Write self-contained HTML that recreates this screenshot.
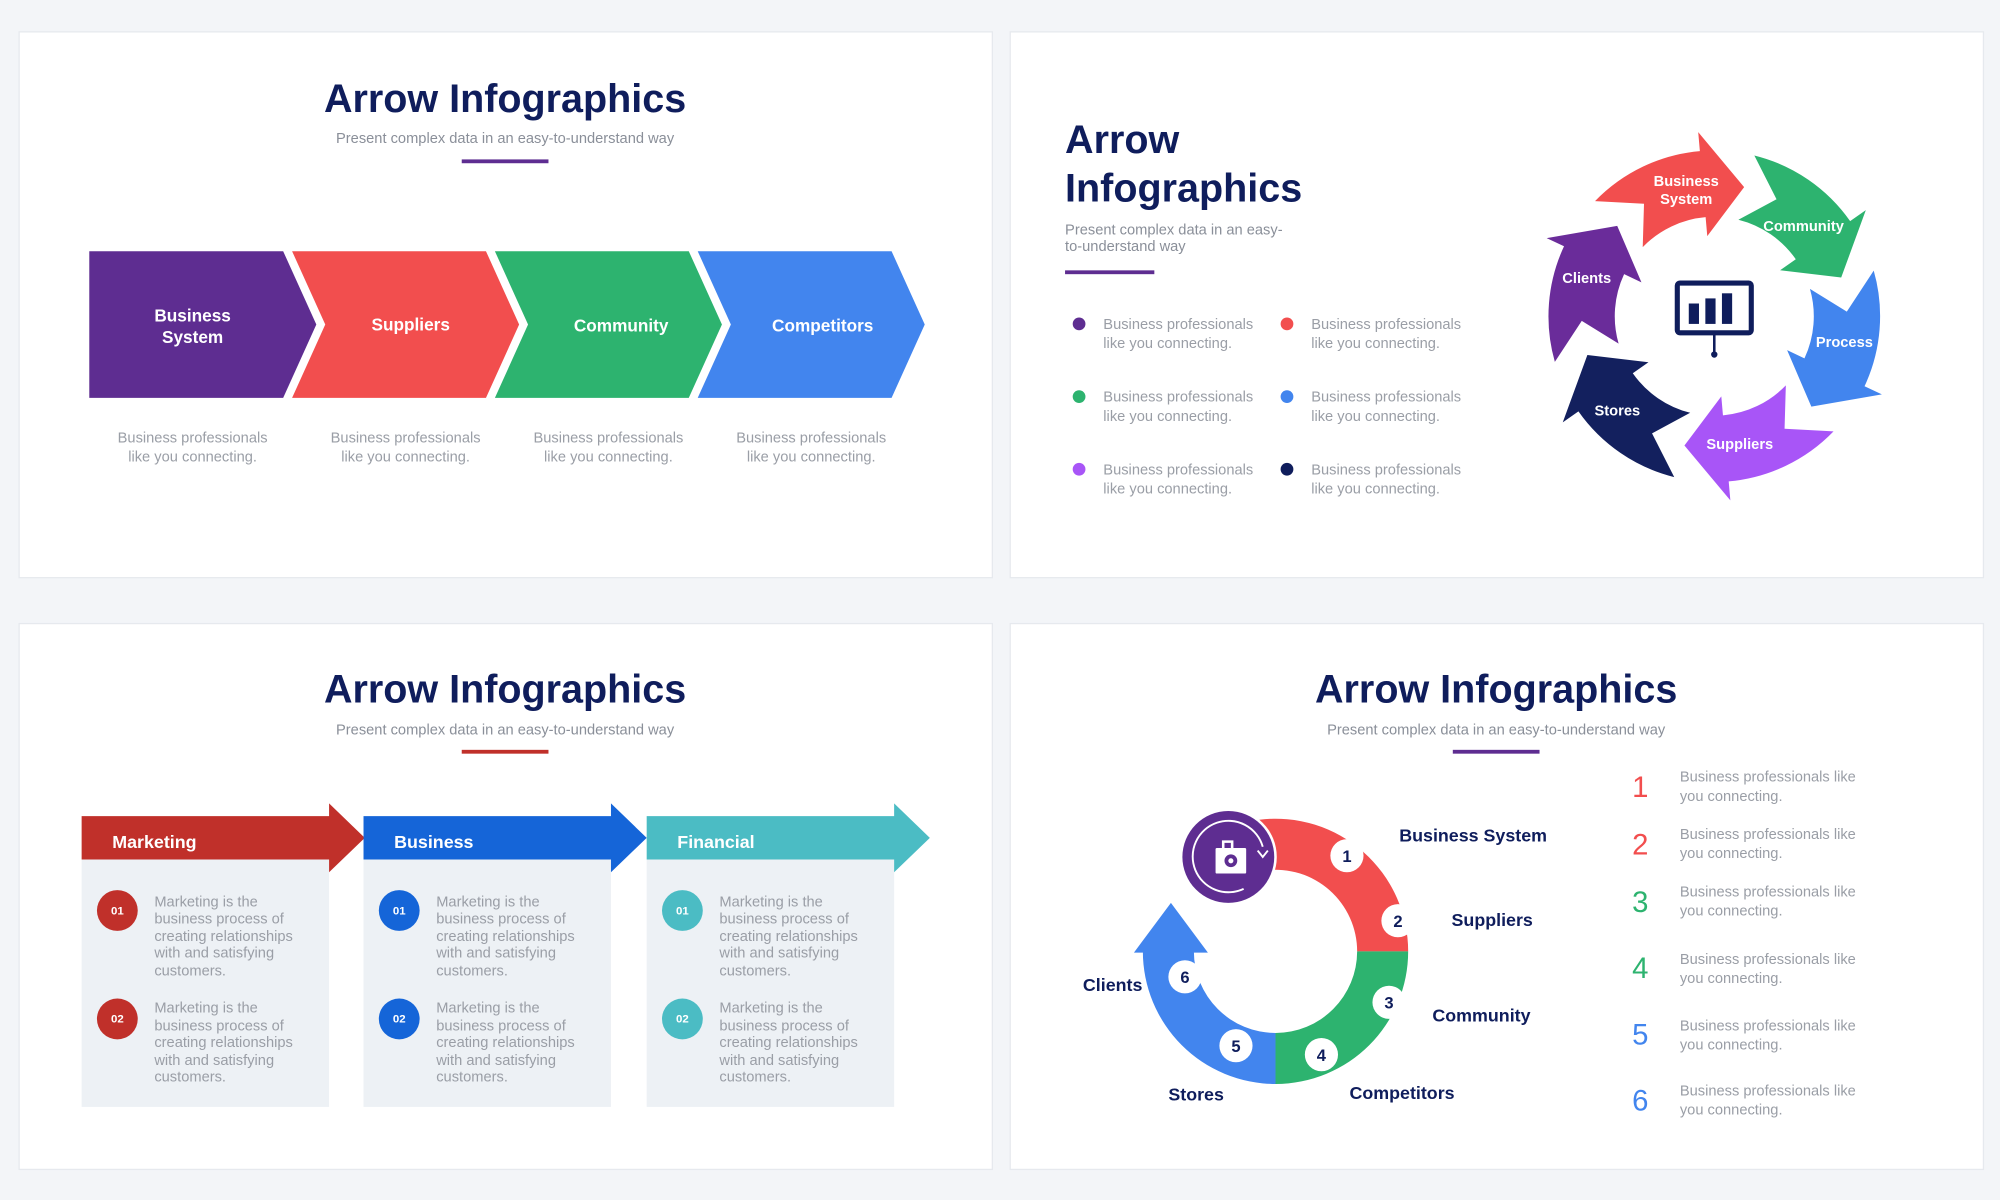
<!DOCTYPE html>
<html><head><meta charset="utf-8">
<style>
html,body{margin:0;padding:0;background:#f3f5f8;}
svg{display:block;font-family:"Liberation Sans",sans-serif;}
.t{font-weight:bold;fill:#0f1d5c;font-size:31px;}
.s{fill:#8a8f99;font-size:11.5px;}
.g{fill:#9a9ea6;font-size:11.5px;}
.w{fill:#fff;font-weight:bold;font-size:13.5px;}
.n{fill:#0f1d5c;font-weight:bold;font-size:14px;}
</style></head><body>
<svg width="2000" height="1200" viewBox="0 0 1568 941" preserveAspectRatio="none">
<rect width="1568" height="941" fill="#f3f5f8"/>
<g fill="#fff" stroke="#e6e9ee" stroke-width="1">
<rect x="15" y="25" width="763" height="428"/>
<rect x="792" y="25" width="763" height="428"/>
<rect x="15" y="489" width="763" height="428"/>
<rect x="792" y="489" width="763" height="428"/>
</g>

<!-- Panel 1 -->
<text class="t" x="396" y="88" text-anchor="middle">Arrow Infographics</text>
<text class="s" x="396" y="112" text-anchor="middle">Present complex data in an easy-to-understand way</text>
<rect x="362" y="125" width="68" height="3" fill="#5e2d91"/>
<polygon points="70,197 222,197 248,254.5 222,312 70,312" fill="#5e2d91"/>
<polygon points="229,197 381,197 407,254.5 381,312 229,312 255,254.5" fill="#f24e4e"/>
<polygon points="388,197 540,197 566,254.5 540,312 388,312 414,254.5" fill="#2db36f"/>
<polygon points="547,197 699,197 725,254.5 699,312 547,312 573,254.5" fill="#4285ee"/>
<text class="w" x="151" y="252" text-anchor="middle">Business</text>
<text class="w" x="151" y="269" text-anchor="middle">System</text>
<text class="w" x="322" y="259" text-anchor="middle">Suppliers</text>
<text class="w" x="487" y="260" text-anchor="middle">Community</text>
<text class="w" x="645" y="260" text-anchor="middle">Competitors</text>
<g class="g" text-anchor="middle">
<text x="151" y="347">Business professionals</text><text x="151" y="362">like you connecting.</text>
<text x="318" y="347">Business professionals</text><text x="318" y="362">like you connecting.</text>
<text x="477" y="347">Business professionals</text><text x="477" y="362">like you connecting.</text>
<text x="636" y="347">Business professionals</text><text x="636" y="362">like you connecting.</text>
</g>

<!-- Panel 2 -->
<text class="t" x="835" y="120">Arrow</text>
<text class="t" x="835" y="158">Infographics</text>
<text class="s" x="835" y="184">Present complex data in an easy-</text>
<text class="s" x="835" y="197">to-understand way</text>
<rect x="835" y="212" width="70" height="3" fill="#5e2d91"/>
<circle cx="846" cy="254" r="5" fill="#5e2d91"/>
<circle cx="1009" cy="254" r="5" fill="#f24e4e"/>
<circle cx="846" cy="311" r="5" fill="#2db36f"/>
<circle cx="1009" cy="311" r="5" fill="#4285ee"/>
<circle cx="846" cy="368" r="5" fill="#a855f7"/>
<circle cx="1009" cy="368" r="5" fill="#0f1d5c"/>
<g class="g">
<text x="865" y="258">Business professionals</text><text x="865" y="273">like you connecting.</text>
<text x="1028" y="258">Business professionals</text><text x="1028" y="273">like you connecting.</text>
<text x="865" y="315">Business professionals</text><text x="865" y="330">like you connecting.</text>
<text x="1028" y="315">Business professionals</text><text x="1028" y="330">like you connecting.</text>
<text x="865" y="372">Business professionals</text><text x="865" y="387">like you connecting.</text>
<text x="1028" y="372">Business professionals</text><text x="1028" y="387">like you connecting.</text>
</g>
<g id="ring"></g>
<rect x="1315" y="222" width="58" height="39" fill="none" stroke="#0f1d5c" stroke-width="4" rx="2"/>
<rect x="1324" y="238" width="8" height="16" fill="#0f1d5c"/>
<rect x="1337" y="234" width="8" height="20" fill="#0f1d5c"/>
<rect x="1350" y="230" width="8" height="24" fill="#0f1d5c"/>
<line x1="1344" y1="261" x2="1344" y2="277" stroke="#0f1d5c" stroke-width="2"/>
<circle cx="1344" cy="278" r="2.5" fill="#0f1d5c"/>
<g class="w" text-anchor="middle" style="font-size:11.5px">
<text x="1322" y="146">Business</text><text x="1322" y="160">System</text>
<text x="1414" y="181">Community</text>
<text x="1446" y="272">Process</text>
<text x="1364" y="352">Suppliers</text>
<text x="1268" y="326">Stores</text>
<text x="1244" y="222">Clients</text>
</g>

<!-- Panel 3 -->
<text class="t" x="396" y="551" text-anchor="middle">Arrow Infographics</text>
<text class="s" x="396" y="576" text-anchor="middle">Present complex data in an easy-to-understand way</text>
<rect x="362" y="588" width="68" height="3" fill="#c0302a"/>

<!-- Panel 4 -->
<text class="t" x="1173" y="551" text-anchor="middle">Arrow Infographics</text>
<text class="s" x="1173" y="576" text-anchor="middle">Present complex data in an easy-to-understand way</text>
<rect x="1139" y="588" width="68" height="3" fill="#5e2d91"/>
<path d="M987.3,642.8 A104,104 0 0 1 1104,746 L1064,746 A64,64 0 0 0 992.2,682.5 Z" fill="#f24e4e"/>
<path d="M1104,746 A104,104 0 0 1 1000,850 L1000,810 A64,64 0 0 0 1064,746 Z" fill="#2db36f"/>
<path d="M1000,850 A104,104 0 0 1 896,746 L896,747 L889,747 L918,708 L947,747 L936,747 L936,746 A64,64 0 0 0 1000,810 Z" fill="#4285ee"/>
<circle cx="963" cy="672" r="38" fill="#fff"/>
<circle cx="963" cy="672" r="36" fill="#5e2d91"/>
<path d="M990,664 A28,28 0 1 0 975,697" fill="none" stroke="#fff" stroke-width="1.5"/>
<path d="M986,667 L990,672 L994,667" fill="none" stroke="#fff" stroke-width="1.5"/>
<rect x="953" y="665" width="24" height="20" fill="#fff" rx="1"/>
<path d="M959,665 V660 H966 V665" fill="none" stroke="#fff" stroke-width="2"/>
<circle cx="965" cy="675" r="5" fill="#5e2d91"/>
<circle cx="965" cy="675" r="2" fill="#fff"/>
<g font-weight="bold" font-size="13" text-anchor="middle" fill="#0f1d5c">
<circle cx="1056" cy="671" r="13" fill="#fff"/><text x="1056" y="676">1</text>
<circle cx="1096" cy="722" r="13" fill="#fff"/><text x="1096" y="727">2</text>
<circle cx="1089" cy="786" r="13" fill="#fff"/><text x="1089" y="791">3</text>
<circle cx="1036" cy="827" r="13" fill="#fff"/><text x="1036" y="832">4</text>
<circle cx="969" cy="820" r="13" fill="#fff"/><text x="969" y="825">5</text>
<circle cx="929" cy="766" r="13" fill="#fff"/><text x="929" y="771">6</text>
</g>
<text class="n" x="1097" y="660">Business System</text>
<text class="n" x="1138" y="726">Suppliers</text>
<text class="n" x="1123" y="801">Community</text>
<text class="n" x="1058" y="862">Competitors</text>
<text class="n" x="916" y="863">Stores</text>
<text class="n" x="849" y="777">Clients</text>
<g font-size="23" text-anchor="middle">
<text x="1286" y="625" fill="#f24e4e">1</text>
<text x="1286" y="670" fill="#f24e4e">2</text>
<text x="1286" y="715" fill="#2db36f">3</text>
<text x="1286" y="767" fill="#2db36f">4</text>
<text x="1286" y="819" fill="#4285ee">5</text>
<text x="1286" y="871" fill="#4285ee">6</text>
</g>
<g class="g">
<text x="1317" y="613">Business professionals like</text><text x="1317" y="628">you connecting.</text>
<text x="1317" y="658">Business professionals like</text><text x="1317" y="673">you connecting.</text>
<text x="1317" y="703">Business professionals like</text><text x="1317" y="718">you connecting.</text>
<text x="1317" y="756">Business professionals like</text><text x="1317" y="771">you connecting.</text>
<text x="1317" y="808">Business professionals like</text><text x="1317" y="823">you connecting.</text>
<text x="1317" y="859">Business professionals like</text><text x="1317" y="874">you connecting.</text>
</g>

<!-- Panel 3 columns -->
<g>
<rect x="64" y="674" width="194" height="194" fill="#edf1f5"/>
<rect x="285" y="674" width="194" height="194" fill="#edf1f5"/>
<rect x="507" y="674" width="194" height="194" fill="#edf1f5"/>
<polygon points="64,640 258,640 258,630 286,657 258,684 258,674 64,674" fill="#c0302a"/>
<polygon points="285,640 479,640 479,630 507,657 479,684 479,674 285,674" fill="#1565d8"/>
<polygon points="507,640 701,640 701,630 729,657 701,684 701,674 507,674" fill="#4bbcc4"/>
<text class="w" x="88" y="665" style="font-size:14px">Marketing</text>
<text class="w" x="309" y="665" style="font-size:14px">Business</text>
<text class="w" x="531" y="665" style="font-size:14px">Financial</text>
<g font-size="9" font-weight="bold" fill="#fff" text-anchor="middle">
<circle cx="92" cy="714" r="16" fill="#c0302a"/><text x="92" y="717">01</text>
<circle cx="92" cy="799" r="16" fill="#c0302a"/><text x="92" y="802">02</text>
<circle cx="313" cy="714" r="16" fill="#1565d8"/><text x="313" y="717">01</text>
<circle cx="313" cy="799" r="16" fill="#1565d8"/><text x="313" y="802">02</text>
<circle cx="535" cy="714" r="16" fill="#4bbcc4"/><text x="535" y="717">01</text>
<circle cx="535" cy="799" r="16" fill="#4bbcc4"/><text x="535" y="802">02</text>
</g>
<g class="g">
<text x="121" y="711">Marketing is the</text><text x="121" y="724">business process of</text><text x="121" y="738">creating relationships</text><text x="121" y="751">with and satisfying</text><text x="121" y="765">customers.</text>
<text x="121" y="794">Marketing is the</text><text x="121" y="808">business process of</text><text x="121" y="821">creating relationships</text><text x="121" y="835">with and satisfying</text><text x="121" y="848">customers.</text>
<text x="342" y="711">Marketing is the</text><text x="342" y="724">business process of</text><text x="342" y="738">creating relationships</text><text x="342" y="751">with and satisfying</text><text x="342" y="765">customers.</text>
<text x="342" y="794">Marketing is the</text><text x="342" y="808">business process of</text><text x="342" y="821">creating relationships</text><text x="342" y="835">with and satisfying</text><text x="342" y="848">customers.</text>
<text x="564" y="711">Marketing is the</text><text x="564" y="724">business process of</text><text x="564" y="738">creating relationships</text><text x="564" y="751">with and satisfying</text><text x="564" y="765">customers.</text>
<text x="564" y="794">Marketing is the</text><text x="564" y="808">business process of</text><text x="564" y="821">creating relationships</text><text x="564" y="835">with and satisfying</text><text x="564" y="848">customers.</text>
</g>
</g>
</svg>
<script>
(function(){
var cx=1344,cy=248,R=130,r=78,m=(R+r)/2;
function P(rad,a){a=a*Math.PI/180;return (cx+rad*Math.sin(a)).toFixed(1)+","+(cy-rad*Math.cos(a)).toFixed(1);}
var cols=["#f24e4e","#2db36f","#4285ee","#a855f7","#13205e","#6a2c9a"];
var cs=[-15,45,105,165,225,285];
var g=document.getElementById("ring"),h="";
for(var i=0;i<6;i++){
 var c=cs[i],s=c-31,e=c+10,t=c+28;
 var d="M"+P(R,s)+" A"+R+","+R+" 0 0 1 "+P(R,e)+" L"+P(R+15,e)+" L"+P(m,t)+" L"+P(r-15,e)+" L"+P(r,e)+
 " A"+r+","+r+" 0 0 0 "+P(r,s)+" L"+P(m,s+14)+" Z";
 h+='<path d="'+d+'" fill="'+cols[i]+'"/>';
}
g.innerHTML=h;
})();
</script>
</body></html>
